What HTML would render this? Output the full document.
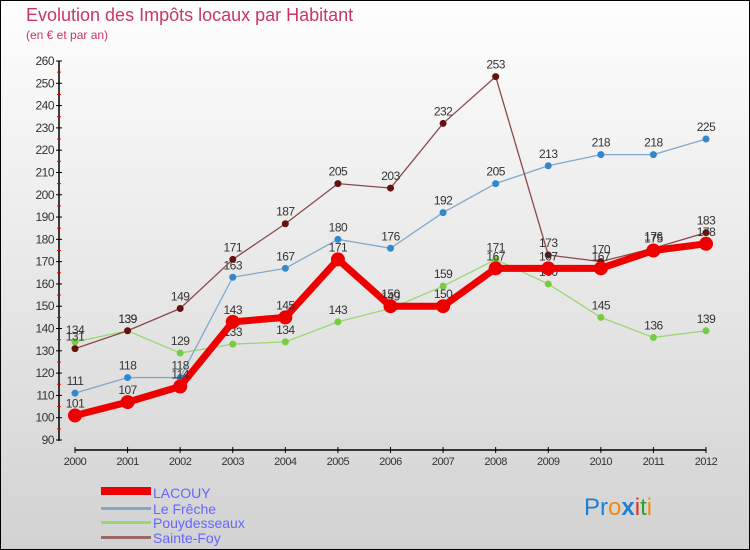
<!DOCTYPE html>
<html><head><meta charset="utf-8"><style>
body{margin:0;}
#c{width:750px;height:550px;position:relative;overflow:hidden;font-family:"Liberation Sans",sans-serif;}
</style></head><body>
<div id="c">
<svg id="s" width="750" height="550" xmlns="http://www.w3.org/2000/svg" font-family="Liberation Sans, sans-serif">
<defs><linearGradient id="bg" x1="0" y1="0" x2="0" y2="1"><stop offset="0" stop-color="#fefefe"/><stop offset="1" stop-color="#d2d2d2"/></linearGradient></defs>
<rect x="0.5" y="0.5" width="749" height="549" fill="url(#bg)" stroke="#000"/>
<text x="26" y="21" font-size="18" fill="#c8356a">Evolution des Impôts locaux par Habitant</text>
<text x="26" y="39" font-size="12" fill="#c8356a">(en € et par an)</text>
<g id="axes"></g><g id="series"></g>
<g>
<rect x="101" y="487" width="50" height="8" fill="#e00"/>
<text x="153" y="498" font-size="14" fill="#6666ff">LACOUY</text>
<rect x="101" y="507" width="50" height="3" fill="#80a8cc"/>
<text x="153" y="514" font-size="14" fill="#6666ff">Le Frêche</text>
<rect x="101" y="521" width="50" height="3" fill="#99d870"/>
<text x="153" y="528" font-size="14" fill="#6666ff">Pouydesseaux</text>
<rect x="101" y="536" width="50" height="3" fill="#9a6a6a"/>
<text x="153" y="543" font-size="14" fill="#6666ff">Sainte-Foy</text>
</g>
<text x="584" y="515" font-size="24"><tspan fill="#1f7fd0">Pr</tspan><tspan fill="#f08a10">o</tspan><tspan fill="#1f7fd0" font-weight="bold">x</tspan><tspan fill="#e03020">i</tspan><tspan fill="#30a030">t</tspan><tspan fill="#f08a10">i</tspan></text>
</svg></div>
<script>
const years=[2000,2001,2002,2003,2004,2005,2006,2007,2008,2009,2010,2011,2012];
const lacouy=[101,107,114,143,145,171,150,150,167,167,167,175,178];
const leFreche=[111,118,118,163,167,180,176,192,205,213,218,218,225];
const pouydesseaux=[134,139,129,133,134,143,149,159,171,160,145,136,139];
const sainteFoy=[131,139,149,171,187,205,203,232,253,173,170,176,183];
const yTicks=[90,100,110,120,130,140,150,160,170,180,190,200,210,220,230,240,250,260];
const NS="http://www.w3.org/2000/svg";
const x=i=>75+i*(706-75)/12;
const y=v=>440-(v-90)*(440-61)/170;
function mk(t,a,p){const e=document.createElementNS(NS,t);for(const k in a)e.setAttribute(k,a[k]);p.appendChild(e);return e;}
const ax=document.getElementById('axes');
mk('line',{x1:59,y1:61,x2:59,y2:441,stroke:'#000','stroke-width':1.5},ax);
mk('line',{x1:75,y1:450,x2:706,y2:450,stroke:'#000','stroke-width':1.5},ax);
yTicks.forEach(v=>{
 mk('line',{x1:56,y1:y(v),x2:62,y2:y(v),stroke:'#000'},ax);
 if(v<260)mk('line',{x1:57,y1:y(v+5),x2:61,y2:y(v+5),stroke:'#e00'},ax);
 const t=mk('text',{x:54,y:y(v)+4,'font-size':12,fill:'#333','text-anchor':'end','letter-spacing':'-0.5'},ax);t.textContent=v;
 
 
});
years.forEach((yr,i)=>{
 mk('line',{x1:x(i),y1:447,x2:x(i),y2:453,stroke:'#000'},ax);
 const t=mk('text',{x:x(i),y:465,'font-size':11,fill:'#333','text-anchor':'middle','letter-spacing':'-0.5'},ax);t.textContent=yr;
 
 
});
const sg=document.getElementById('series');
function draw(vals,name,col,w,r,dot){
 const g=mk('g',{},sg);
 
 
 mk('polyline',{points:vals.map((v,i)=>x(i)+','+y(v)).join(' '),fill:'none',stroke:col,'stroke-width':w,'stroke-linejoin':'round'},g);
 vals.forEach((v,i)=>{
  const c=mk('circle',{cx:x(i),cy:y(v),r:r,fill:dot},g);
  
  
  const t=mk('text',{x:x(i),y:y(v)-8,'font-size':12,fill:'#333','text-anchor':'middle','letter-spacing':'-0.5'},g);t.textContent=v;
  
  
 });
}
draw(pouydesseaux,'pouydesseaux','#99d870',1.3,3.5,'#77cc44');
draw(leFreche,'le-freche','#80a8cc',1.3,3.5,'#3388cc');
draw(sainteFoy,'sainte-foy','#8a4a4a',1.3,3.5,'#661111');
draw(lacouy,'lacouy','#ee0000',7,7,'#ee0000');
</script>
</body></html>
